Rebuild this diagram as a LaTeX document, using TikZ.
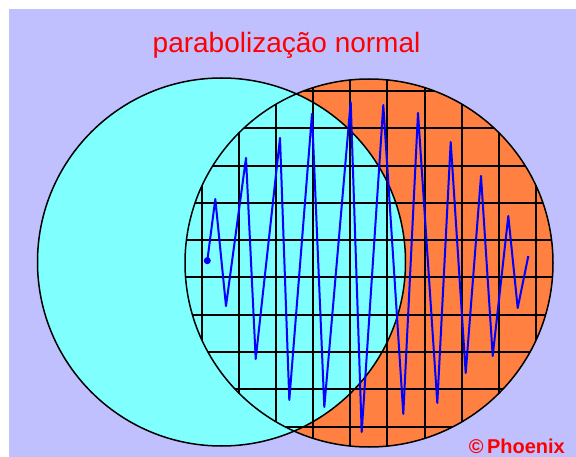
\documentclass[tikz,border=0pt]{standalone}
\usepackage{fontspec}
\setmainfont{Liberation Sans}
\definecolor{lavender}{RGB}{192,192,255}
\definecolor{aqua}{RGB}{128,255,255}
\definecolor{tangerine}{RGB}{255,128,64}
\tikzset{
  rim/.style={line width=1.5pt},
  gridline/.style={line width=2pt},
  signal/.style={blue, line width=2pt, line join=round}
}
\begin{document}
\begin{tikzpicture}[x=1pt,y=-1pt]
  \useasboundingbox (0,0) rectangle (576,457);
  \fill[white] (0,0) rectangle (576,457);
  \fill[lavender] (9,9) rectangle (576,457);
  \coordinate (L) at (221.5,262);
  \coordinate (R) at (369,263);
  % the two discs
  \fill[tangerine] (R) circle[radius=184];
  \fill[aqua] (L) circle[radius=184];
  % grid inside the right disc
  \begin{scope}
    \clip (R) circle[radius=184];
    \foreach \i in {0,...,9} {
      \draw[gridline] ({201.7+37.15*\i},70) -- ({201.7+37.15*\i},460);
      \draw[gridline] (180,{91+37.3*\i}) -- (560,{91+37.3*\i});
    }
  \end{scope}
  \draw[rim] (L) circle[radius=184];
  \draw[rim] (R) circle[radius=184];
  % signal
  \coordinate (start) at (207.3,260.7);
  \coordinate (stop) at (528.3,256);
  \draw[signal] (start) -- (215.3,199) -- (226,306) -- (246,158) -- (255.7,359)
    -- (280,138) -- (289.3,400) -- (312,114) -- (324.3,407) -- (350.7,102)
    -- (361.7,432) -- (383.3,105) -- (403.3,414) -- (418,113) -- (437.3,403)
    -- (450.7,142) -- (465.7,373) -- (481,176) -- (492.7,356) -- (508.3,216)
    -- (517.7,308) -- (stop);
  \fill[blue] (start) circle[radius=3.5];
  % labels
  \node[anchor=base west, inner sep=0, text=red, font=\fontsize{28}{30}\selectfont] (title) at (152.5,53) {parabolização normal};
  \node[anchor=base east, inner sep=0, text=red, font=\bfseries\fontsize{20}{22}\selectfont] (credit) at (565,453) {©\,Phoenix};
\end{tikzpicture}
\end{document}
